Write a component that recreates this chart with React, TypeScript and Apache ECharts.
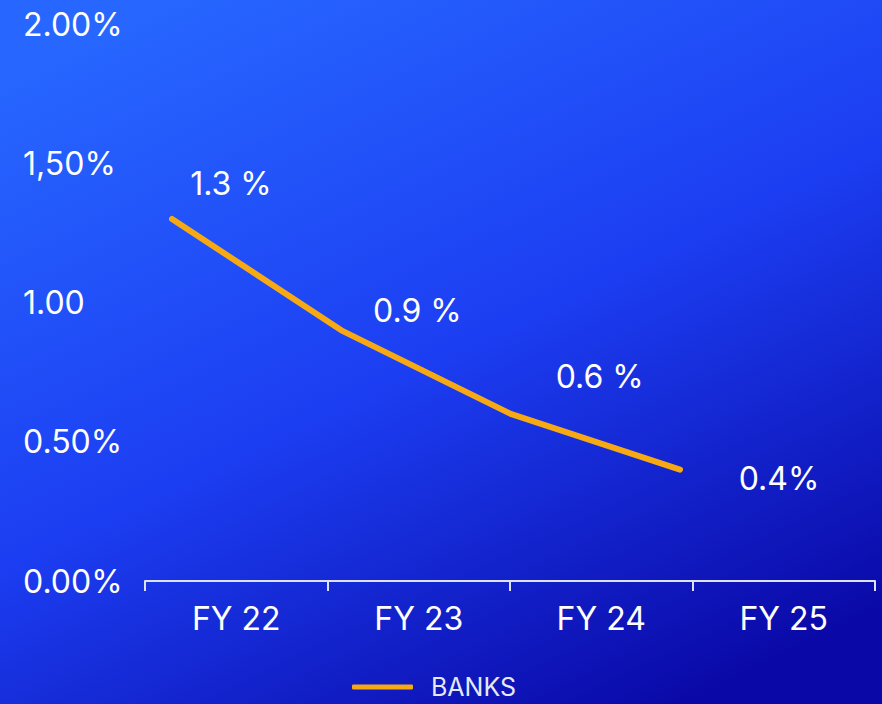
import React, { useEffect, useRef } from "react";
import * as echarts from "echarts";

const categories = ["FY 22", "FY 23", "FY 24", "FY 25"];
const banksValues = [1.3, 0.9, 0.6, 0.4];
const banksLabels = ["1.3 %", "0.9 %", "0.6 %", "0.4%"];
const yTickLabels = ["0.00%", "0.50%", "1.00", "1,50%", "2.00%"];
const seriesName = "BANKS";

// style: label offsets relative to each point (px)
const labelOffsets: [number, number][] = [
  [59, -35],
  [76, -20],
  [89, -37],
  [99, 9],
];

const FONT = "Inter, 'Noto Sans', sans-serif";
const LINE_COLOR = "#F7A913";

export default function App() {
  const ref = useRef<HTMLDivElement>(null);
  useEffect(() => {
    document.body.style.margin = "0";
    if (!ref.current) return;
    const chart = echarts.init(ref.current, undefined, { renderer: "svg" });
    chart.setOption({
      animation: false,
      backgroundColor: new echarts.graphic.LinearGradient(0.2, 0, 0.8, 1, [
        { offset: 0, color: "#2766FF" },
        { offset: 0.5, color: "#1C3EF2" },
        { offset: 1, color: "#0A08A6" },
      ]),
      textStyle: { fontFamily: FONT },
      grid: [
        { left: 145, right: 7, top: 24, bottom: 123 },
        { left: 172, right: 202, top: 24, bottom: 123 },
      ],
      legend: {
        data: [seriesName],
        left: 347,
        top: 669,
        padding: [5, 5, 0, 5],
        icon: "roundRect",
        itemWidth: 61,
        itemHeight: 5,
        textStyle: {
          color: "#E6E9F5",
          fontSize: 25,
          lineHeight: 26,
          fontFamily: FONT,
          padding: [0, 0, 0, 13],
        },
      },
      xAxis: [
        {
          type: "category",
          gridIndex: 0,
          data: categories,
          boundaryGap: true,
          axisLine: { show: true, lineStyle: { color: "#DCE2F5", width: 2 } },
          axisTick: { show: true, length: 10, lineStyle: { color: "#DCE2F5", width: 2 } },
          axisLabel: { color: "#FFFFFF", fontSize: 32, fontFamily: FONT, margin: 21 },
          splitLine: { show: false },
        },
        {
          type: "category",
          gridIndex: 1,
          data: categories,
          boundaryGap: false,
          show: false,
        },
      ],
      yAxis: [
        {
          type: "value",
          gridIndex: 0,
          min: 0,
          max: 2,
          interval: 0.5,
          axisLine: { show: false },
          axisTick: { show: false },
          splitLine: { show: false },
          axisLabel: {
            color: "#FFFFFF",
            fontSize: 32,
            fontFamily: FONT,
            align: "left",
            margin: 122,
            padding: [4, 0, 0, 0],
            formatter: (v: number) => yTickLabels[Math.round(v / 0.5)] ?? "",
          },
        },
        {
          type: "value",
          gridIndex: 1,
          min: 0,
          max: 2,
          show: false,
        },
      ],
      series: [
        {
          name: seriesName,
          type: "line",
          xAxisIndex: 1,
          yAxisIndex: 1,
          data: banksValues.map((v, i) => ({
            value: v,
            label: { offset: labelOffsets[i] },
          })),
          symbol: "circle",
          symbolSize: 1,
          showSymbol: true,
          itemStyle: { color: LINE_COLOR },
          lineStyle: { color: LINE_COLOR, width: 6, cap: "round", join: "round" },
          label: {
            show: true,
            position: "inside",
            color: "#FFFFFF",
            fontSize: 32,
            fontFamily: FONT,
            formatter: (p: any) => banksLabels[p.dataIndex],
          },
        },
      ],
    });
    return () => chart.dispose();
  }, []);
  return <div ref={ref} style={{ width: 882, height: 704 }} />;
}
